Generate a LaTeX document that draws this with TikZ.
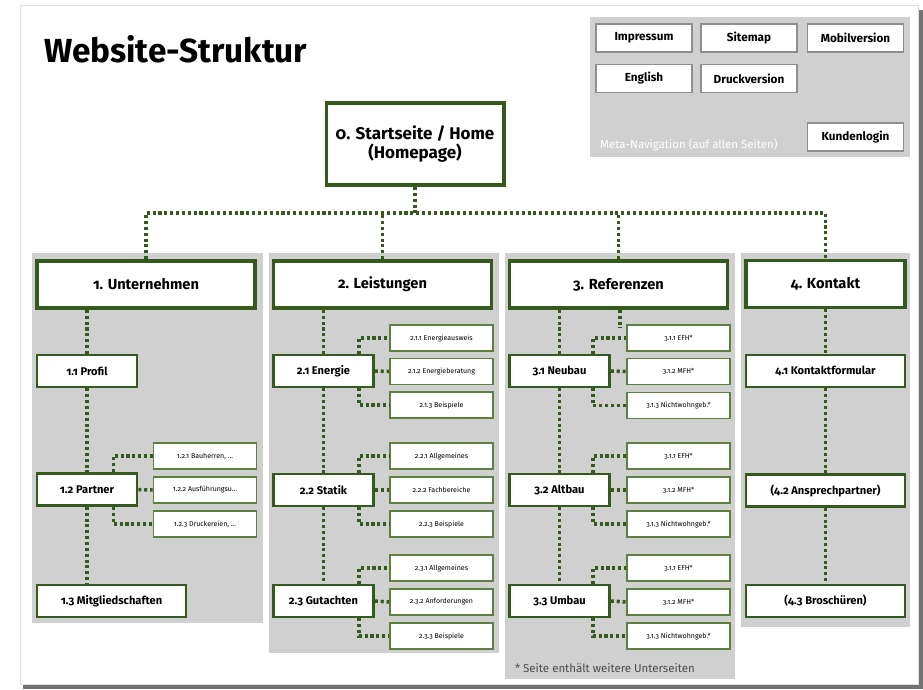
\documentclass[tikz,border=0pt]{standalone}
\usepackage{fontspec}
\setmainfont{Fira Sans}[Numbers=OldStyle]
\usepackage{tikz}
\definecolor{forest}{HTML}{355A1E}
\definecolor{leaf}{HTML}{5E7F3E}
\definecolor{panel}{HTML}{D0D0D0}
\definecolor{btnline}{HTML}{8E8E8E}

\begin{document}
\begin{tikzpicture}[x=0.03cm, y=-0.03cm,
  head/.style={draw=forest, line width=3.2pt, fill=white, inner sep=0pt,
    minimum width=6.54cm, minimum height=1.41cm, font=\bfseries\fontsize{12.5}{15}\selectfont},
  home/.style={head, line width=3.4pt, minimum width=5.31cm, minimum height=2.46cm, align=center,
    font=\bfseries\fontsize{14.5}{16}\selectfont},
  page/.style={draw=forest, line width=2.3pt, fill=white, inner sep=0pt,
    minimum width=3cm, minimum height=0.96cm, font=\bfseries\fontsize{9.5}{11}\selectfont},
  subpage/.style={draw=leaf, line width=1.4pt, fill=white, inner sep=0pt,
    minimum width=3.09cm, minimum height=0.78cm, font=\fontsize{6}{7}\selectfont},
  metabtn/.style={draw=btnline, line width=1.6pt, fill=white, inner sep=0pt,
    minimum width=2.88cm, minimum height=0.84cm, font=\bfseries\fontsize{10}{12}\selectfont},
  link/.style={draw=forest, line width=3pt, dash pattern=on 2.6pt off 2.4pt}]
\useasboundingbox (0,0) rectangle (923,689);
\fill[black!55] (23,10) rectangle (923,689);
\fill[white, draw=black!12] (20,5) rectangle (918,684);

\node[anchor=base west, font=\bfseries\fontsize{28.5}{32}\selectfont] (title) at (40,62) {Website-Struktur};

% meta navigation
\fill[panel] (590,17) rectangle (910,157);
\node[metabtn] (impressum) at (644,38) {Impressum};
\node[metabtn] (sitemap) at (749,38) {Sitemap};
\node[metabtn] (mobil) at (855.5,38) {Mobilversion};
\node[metabtn] (english) at (644,78.5) {English};
\node[metabtn] (druck) at (749,78.5) {Druckversion};
\node[metabtn] (login) at (855.5,137) {Kundenlogin};
\node[anchor=west, text=white, font=\fontsize{9.8}{11}\selectfont] (metatext) at (596,145) {Meta-Navigation (auf allen Seiten)};

% columns
\fill[panel] (32,253) rectangle (263,623);
\fill[panel] (269,253) rectangle (499,653);
\fill[panel] (505,253) rectangle (735,679);
\fill[panel] (741,253) rectangle (910,627);

\node[home] (home) at (415,144) {0. Startseite / Home\\(Homepage)};
\coordinate (bus) at (415,213);

\node[head] (unt) at (146,284.5) {1. Unternehmen};
\node[head] (leist) at (382.5,284.5) {2. Leistungen};
\node[head] (ref) at (618.5,284.5) {3. Referenzen};
\node[head, minimum width=4.77cm] (kont) at (825.5,284) {4. Kontakt};

\draw[link] (home.south) -- (bus);
\draw[link] (unt.north) |- (kont.north |- bus) -- (kont.north);
\draw[link] (leist.north) -- (leist.north |- bus);
\draw[link] (ref.north) -- (ref.north |- bus);

% 1. Unternehmen
\node[page] (u11) at (87,371) {1.1 Profil};
\node[page] (u12) at (87,489.5) {1.2 Partner};
\node[page, minimum width=4.47cm] (u13) at (111.5,601) {1.3 Mitgliedschaften};
\node[subpage] (u121) at (205,456) {1.2.1 Bauherren, \dots};
\node[subpage] (u122) at (205,490) {1.2.2 Ausführungsu\dots};
\node[subpage] (u123) at (205,524) {1.2.3 Druckereien, \dots};
\draw[link] (unt.south -| u11) -- (u11.north);
\draw[link] (u11.south) -- (u12.north);
\draw[link] (u12.south) -- (u12.south |- u13.north);
\draw[link] ([xshift=-0.75cm]u12.north east) |- (u121.west);
\draw[link] (u12.east) -- (u122.west);
\draw[link] ([xshift=-0.75cm]u12.south east) |- (u123.west);

% 2. Leistungen
\node[page] (l21) at (323.5,371) {2.1 Energie};
\node[page] (l22) at (323.5,490) {2.2 Statik};
\node[page] (l23) at (323.5,601) {2.3 Gutachten};
\node[subpage] (l211) at (441.5,338) {2.1.1 Energieausweis};
\node[subpage] (l212) at (441.5,371.5) {2.1.2 Energieberatung};
\node[subpage] (l213) at (441.5,405) {2.1.3 Beispiele};
\node[subpage] (l221) at (441.5,456) {2.2.1 Allgemeines};
\node[subpage] (l222) at (441.5,490) {2.2.2 Fachbereiche};
\node[subpage] (l223) at (441.5,524) {2.2.3 Beispiele};
\node[subpage] (l231) at (441.5,568) {2.3.1 Allgemeines};
\node[subpage] (l232) at (441.5,602) {2.3.2 Anforderungen};
\node[subpage] (l233) at (441.5,636) {2.3.3 Beispiele};
\draw[link] (leist.south -| l21) -- (l21.north);
\draw[link] (l21.south) -- (l22.north);
\draw[link] (l22.south) -- (l23.north);
\foreach \p in {l21,l22,l23} {
  \draw[link] ([xshift=-0.48cm]\p.north east) |- (\p1.west);
  \draw[link] (\p.east) -- (\p2.west);
  \draw[link] ([xshift=-0.48cm]\p.south east) |- (\p3.west);
}

% 3. Referenzen
\node[page] (r31) at (559.5,371) {3.1 Neubau};
\node[page] (r32) at (559.5,490) {3.2 Altbau};
\node[page] (r33) at (559.5,601) {3.3 Umbau};
\node[subpage] (r311) at (678.5,338) {3.1.1 EFH*};
\node[subpage] (r312) at (678.5,371.5) {3.1.2 MFH*};
\node[subpage] (r313) at (678.5,405.5) {3.1.3 Nichtwohngeb.*};
\node[subpage] (r321) at (678.5,456) {3.1.1 EFH*};
\node[subpage] (r322) at (678.5,490) {3.1.2 MFH*};
\node[subpage] (r323) at (678.5,524) {3.1.3 Nichtwohngeb.*};
\node[subpage] (r331) at (678.5,568) {3.1.1 EFH*};
\node[subpage] (r332) at (678.5,602) {3.1.2 MFH*};
\node[subpage] (r333) at (678.5,636) {3.1.3 Nichtwohngeb.*};
\coordinate (rstub) at (620,328);
\draw[link] (ref.south -| rstub) -- (rstub);
\draw[link] (ref.south -| r31) -- (r31.north);
\draw[link] (r31.south) -- (r32.north);
\draw[link] (r32.south) -- (r33.north);
\foreach \p in {r31,r32,r33} {
  \draw[link] ([xshift=-0.54cm]\p.north east) |- (\p1.west);
  \draw[link] (\p.east) -- (\p2.west);
  \draw[link] ([xshift=-0.54cm]\p.south east) |- (\p3.west);
}
\node[anchor=west, text=black!70, font=\fontsize{9.8}{11}\selectfont] (note) at (511,668) {* Seite enthält weitere Unterseiten};

% 4. Kontakt
\node[page, minimum width=4.77cm] (k41) at (825.5,371) {4.1 Kontaktformular};
\node[page, minimum width=4.77cm] (k42) at (825.5,490.5) {(4.2 Ansprechpartner)};
\node[page, minimum width=4.77cm] (k43) at (825.5,601) {(4.3 Broschüren)};
\draw[link] (kont.south) -- (k41.north);
\draw[link] (k41.south) -- (k42.north);
\draw[link] (k42.south) -- (k43.north);
\end{tikzpicture}
\end{document}
